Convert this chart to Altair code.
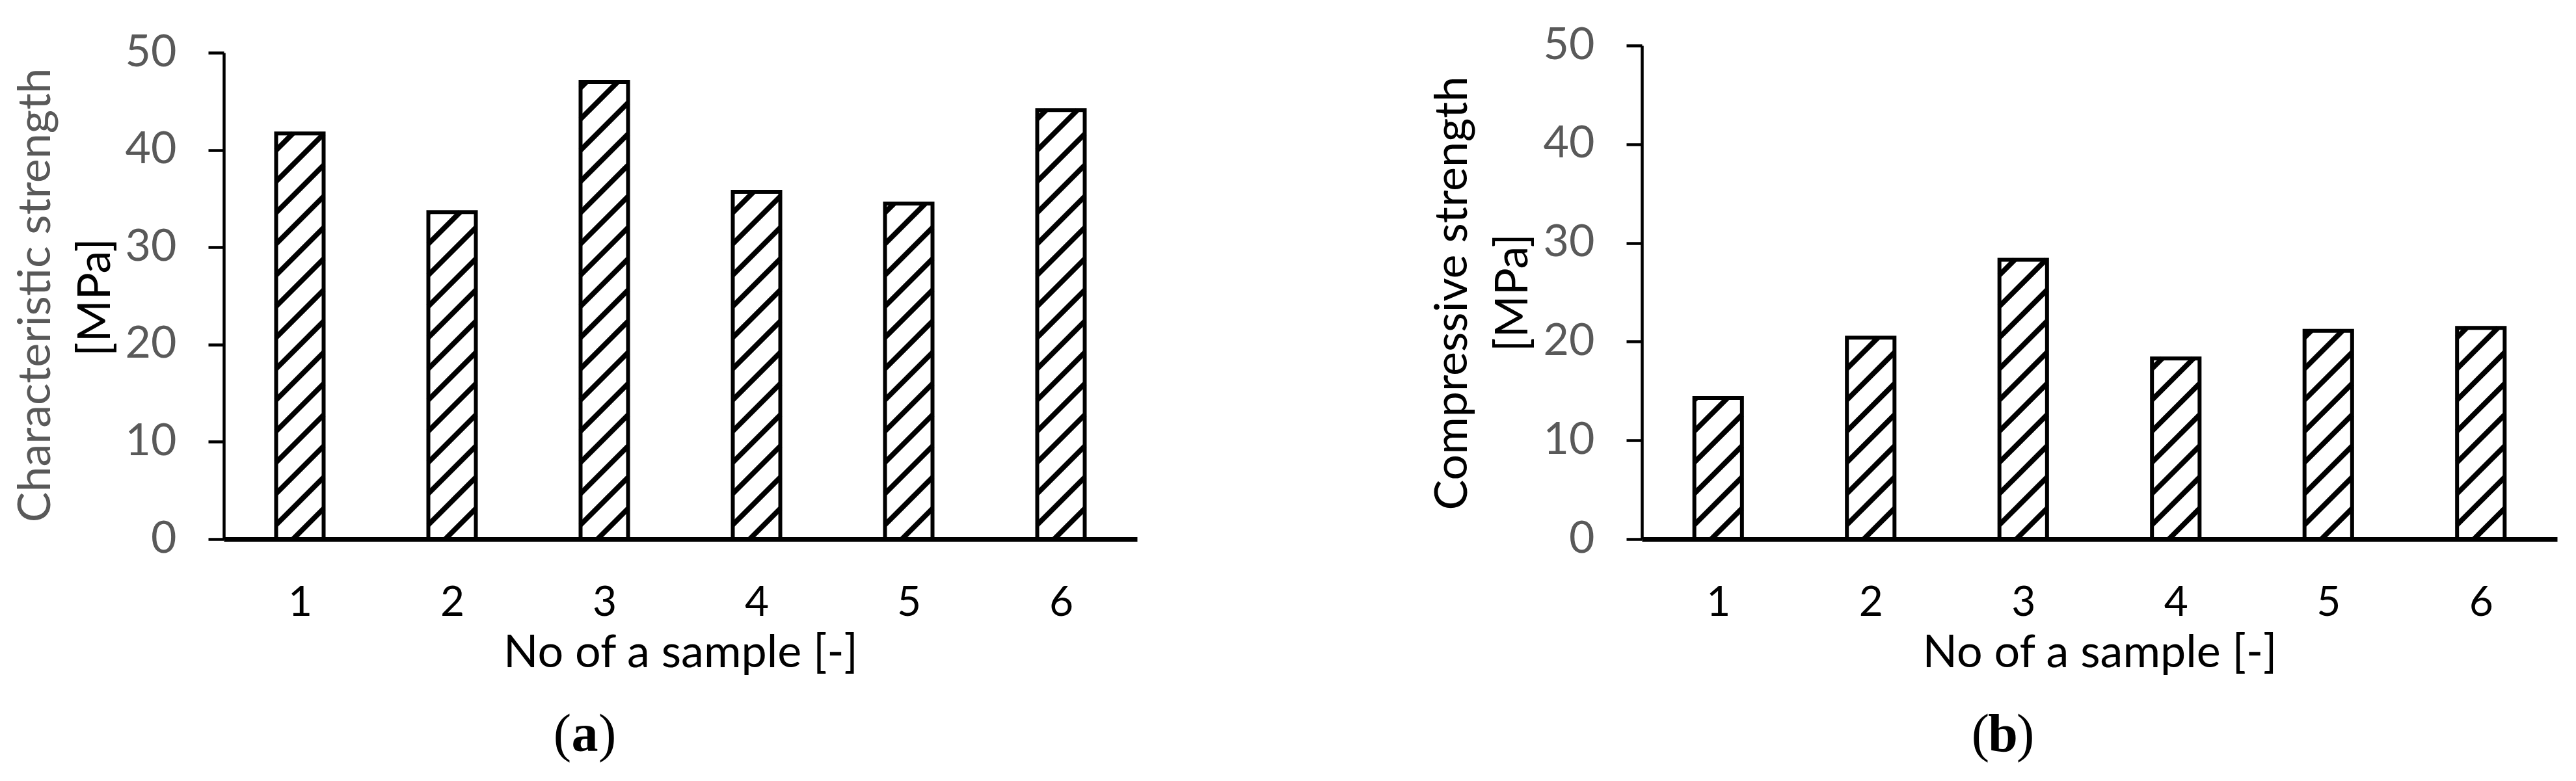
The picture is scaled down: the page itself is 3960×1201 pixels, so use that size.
import altair as alt
import pandas as pd

# ---------------- data ----------------
samples = [1, 2, 3, 4, 5, 6]
char_strength = [41.7, 33.6, 47.0, 35.7, 34.5, 44.1]   # panel (a)
comp_strength = [14.3, 20.4, 28.3, 18.3, 21.1, 21.4]   # panel (b)
y_ticks = [0, 10, 20, 30, 40, 50]
x_title = "No of a sample [-]"
y_title_a = ["Characteristic strength", "[MPa]"]
y_title_b = ["Compressive strength", "[MPa]"]
captions = ["a", "b"]

# ---------------- layout / style ----------------
W, H = 3944, 821
XA = [336, 1740]
YA = [821, 73]
XB = [2516, 3923]
YB = [821, 62]
HALF = 0.156          # half bar width in sample units
PITCH = 48            # vertical hatch pitch (px)
FONT = "Lato"
GRAY = "#595959"


def hatch_segments(values, xr, yr):
    pxx = (xr[1] - xr[0]) / 6.0
    pxy = (yr[0] - yr[1]) / 50.0
    w = 2 * HALF * pxx
    rows = []
    for s, v in zip(samples, values):
        h = v * pxy
        c = -2 * PITCH + 22
        while c < h:
            xs0 = max(0.0, -c)
            xs1 = min(w, h - c)
            if xs1 - xs0 > 0.5:
                rows.append({
                    "xa": s - HALF + xs0 / pxx, "xb": s - HALF + xs1 / pxx,
                    "ya": (xs0 + c) / pxy, "yb": (xs1 + c) / pxy,
                })
            c += PITCH
    return pd.DataFrame(rows)


def panel(values, xr, yr):
    df = pd.DataFrame({"sample": samples, "value": values})
    xscale = alt.Scale(domain=[0.5, 6.5], range=xr, nice=False, zero=False)
    yscale = alt.Scale(domain=[0, 50], range=yr, nice=False)
    xaxis = alt.Axis(orient="bottom", values=samples, format="d", title=x_title,
                     ticks=False, tickSize=0, grid=False,
                     domainColor="black", domainWidth=7,
                     labelFont=FONT, labelFontSize=64, labelColor="black",
                     labelPadding=66, labelFlush=False,
                     titleFont=FONT, titleFontSize=70, titleFontWeight="normal",
                     titleColor="black", titleBaseline="alphabetic", titleY=196)
    yaxis = alt.Axis(orient="left", offset=-xr[0], values=y_ticks, title=None,
                     grid=False, domainColor="black", domainWidth=4.5,
                     tickColor="black", tickWidth=4.5, tickSize=24,
                     labelFont=FONT, labelFontSize=68, labelColor=GRAY,
                     labelPadding=49)
    hd = hatch_segments(values, xr, yr)
    hatch = alt.Chart(hd).mark_rule(color="black", strokeWidth=8, strokeCap="butt").encode(
        x=alt.X("xa:Q", scale=xscale, axis=xaxis),
        x2="xb:Q",
        y=alt.Y("ya:Q", scale=yscale, axis=yaxis),
        y2="yb:Q",
    )
    bars = alt.Chart(df).transform_calculate(
        x1=f"datum.sample - {HALF}", x2=f"datum.sample + {HALF}"
    ).mark_rect(fill="white", fillOpacity=0, stroke="black", strokeWidth=6,
                strokeJoin="miter").encode(
        x=alt.X("x1:Q", scale=xscale, axis=xaxis),
        x2="x2:Q",
        y=alt.Y("value:Q", scale=yscale, axis=yaxis),
        y2=alt.datum(0),
    )
    return alt.layer(hatch, bars)


def text_layer(txt, x, y, color="black", size=70, angle=0, font=FONT, weight="normal",
               align="center", baseline="middle"):
    return alt.Chart(pd.DataFrame({"t": [txt]})).mark_text(
        font=font, fontSize=size, color=color, angle=angle, fontWeight=weight,
        align=align, baseline=baseline
    ).encode(text="t:N", x=alt.value(x), y=alt.value(y))


pa = panel(char_strength, XA, YA)
pb = panel(comp_strength, XB, YB)

texts = [
    text_layer(y_title_a[0], 48, 446, color=GRAY, angle=270),
    text_layer(y_title_a[1], 140, 449, angle=270),
    text_layer(y_title_b[0], 2226, 443, angle=270),
    text_layer(y_title_b[1], 2319, 442, angle=270),
]
for cx, cap in [(891, captions[0]), (3071, captions[1])]:
    texts.append(text_layer("(", cx - 21, 1147, size=82, font="Liberation Serif",
                            align="right", baseline="alphabetic"))
    texts.append(text_layer(cap, cx, 1147, size=82, font="Liberation Serif",
                            weight="bold", baseline="alphabetic"))
    texts.append(text_layer(")", cx + 21, 1147, size=82, font="Liberation Serif",
                            align="left", baseline="alphabetic"))

chart = alt.layer(pa, pb, *texts).resolve_scale(
    x="independent", y="independent"
).properties(
    width=W, height=H,
    autosize=alt.AutoSizeParams(type="none"),
    padding={"left": 0, "top": 0, "right": 0, "bottom": 364},
    background="white",
).configure_view(stroke=None)

chart.save("out.html", embed_options={"renderer": "svg", "actions": False})
